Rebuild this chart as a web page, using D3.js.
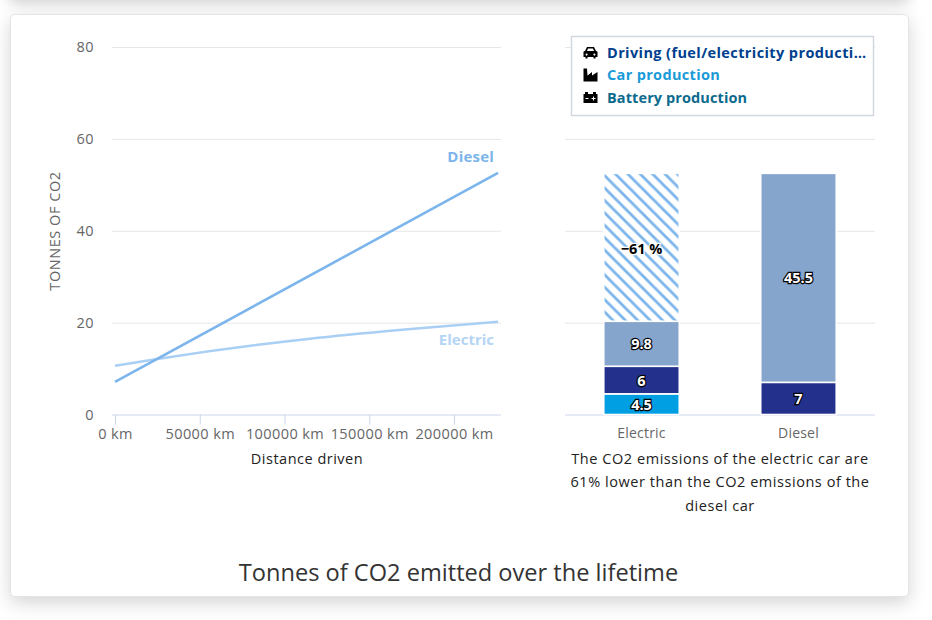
<!DOCTYPE html>
<html>
<head>
<meta charset="utf-8">
<script src="https://cdn.jsdelivr.net/npm/d3@7"></script>
<style>
  html, body { margin: 0; padding: 0; width: 932px; height: 620px; overflow: hidden; background: #fff; }
  .prev { position: absolute; left: 10px; top: -60px; width: 898px; height: 60px; box-shadow: 0 2px 14px rgba(0,0,0,.22); background: #fff; }
  .card { position: absolute; left: 10px; top: 14px; width: 897px; height: 581px; background: #fff; border: 1px solid #e4e4e4;
          border-radius: 5px; box-shadow: 0 6px 18px rgba(0,0,0,.17); }
  svg { position: absolute; left: 0; top: 0; }
  text { font-family: "Open Sans", sans-serif; }
</style>
</head>
<body>
<div class="prev"></div>
<div class="card"></div>
<svg id="chart" width="932" height="620"></svg>
<script>
// values
var yTicks = [0, 20, 40, 60, 80];
var distanceTicks = [0, 50000, 100000, 150000, 200000];
var dieselDistances = [0, 226000];
var dieselLine = [7.1, 52.6];
var electricDistances = [0, 25000, 115000, 171000, 226000];
var electricLine = [10.6, 12.1, 16.5, 18.5, 20.2];

var categories = ["Electric", "Diesel"];
var batteryProduction = [4.5, 0];
var carProduction = [6, 7];
var driving = [9.8, 45.5];
var savedShare = [32.2, 0];

var legendItems = ["Driving (fuel/electricity producti\u2026", "Car production", "Battery production"];
var legendColors = ["#003f8f", "#1a9bd7", "#0b6a8d"];
var legendSpacing = [0.4, 0.33, 0.1];
var captionLines = ["The CO2 emissions of the electric car are", "61% lower than the CO2 emissions of the", "diesel car"];

var svg = d3.select("#chart");

// hatch for the saved part of the electric bar
var pattern = svg.append("defs").append("pattern")
  .attr("id", "hatch")
  .attr("patternUnits", "userSpaceOnUse")
  .attr("width", 12.4).attr("height", 12.4)
  .attr("x", 604).attr("y", 175);
pattern.append("rect").attr("width", 12.4).attr("height", 12.4).attr("fill", "#fff");
pattern.append("path")
  .attr("d", "M-3 -3L15.4 15.4M9.4 -3L15.4 3M-3 9.4L3 15.4")
  .attr("stroke", "#7cb5ec").attr("stroke-width", 2.8);

var y = d3.scaleLinear().domain([0, 80]).range([414.5, 47]);
var x = d3.scaleLinear().domain([0, 200000]).range([115, 454]);
var band = d3.scaleBand().domain(categories).range([565, 875]).paddingInner(0.519).paddingOuter(0.247);

function tickStyle(sel) {
  sel.attr("fill", "#666")
    .style("font-size", "14.5px")
    .style("letter-spacing", "0.4px")
    .style("font-family", '"Open Sans", sans-serif');
}

// ---- left panel

var leftGrid = d3.axisLeft(y).tickValues(yTicks).tickSize(-389).tickPadding(18).tickFormat(d3.format("d"));
var gLeft = svg.append("g").attr("transform", "translate(112,0)").call(leftGrid);
gLeft.select(".domain").remove();
gLeft.selectAll("line").attr("stroke", function(d) { return d === 0 ? "#ccd6eb" : "#e6e6e6"; });
gLeft.selectAll("text").call(tickStyle).attr("dy", "0.34em");

var xAxis = d3.axisBottom(x).tickValues(distanceTicks).tickSize(10).tickPadding(4)
  .tickFormat(function(d) { return d + " km"; });
var gX = svg.append("g").attr("transform", "translate(0,414.5)").call(xAxis);
gX.select(".domain").remove();
gX.selectAll("line").attr("stroke", "#ccd6eb");
gX.selectAll("text").call(tickStyle);

var line = d3.line()
  .x(function(d) { return x(d[0]); })
  .y(function(d) { return y(d[1]); });

svg.append("path").datum(d3.zip(electricDistances, electricLine))
  .attr("d", line.curve(d3.curveMonotoneX))
  .attr("fill", "none").attr("stroke", "#a9cff4").attr("stroke-width", 2.6);
svg.append("path").datum(d3.zip(dieselDistances, dieselLine))
  .attr("d", line.curve(d3.curveLinear))
  .attr("fill", "none").attr("stroke", "#7cb5ec").attr("stroke-width", 2.6);

svg.append("text").attr("x", 494).attr("y", 162).attr("text-anchor", "end")
  .attr("fill", "#7cb5ec").style("font-size", "15px").style("letter-spacing", "0.2px").style("font-weight", 700).text("Diesel");
svg.append("text").attr("x", 494).attr("y", 345).attr("text-anchor", "end")
  .attr("fill", "#b5d5f5").style("font-size", "15px").style("font-weight", 700).text("Electric");

svg.append("text").attr("transform", "translate(60,231) rotate(-90)").attr("text-anchor", "middle")
  .attr("fill", "#666").style("font-size", "14.5px").style("letter-spacing", "0.55px").text("TONNES OF CO2");
svg.append("text").attr("x", 307).attr("y", 464).attr("text-anchor", "middle")
  .attr("fill", "#222").style("font-size", "14.5px").style("letter-spacing", "0.5px").text("Distance driven");

// ---- right panel

var rightGrid = d3.axisLeft(y).tickValues(yTicks).tickSize(-310).tickFormat("");
var gRight = svg.append("g").attr("transform", "translate(565,0)").call(rightGrid);
gRight.select(".domain").remove();
gRight.selectAll("line").attr("stroke", function(d) { return d === 0 ? "#ccd6eb" : "#e6e6e6"; });

var stackRows = categories.map(function(c, i) {
  return { category: c, battery: batteryProduction[i], car: carProduction[i], driving: driving[i], saved: savedShare[i] };
});
var stack = d3.stack().keys(["battery", "car", "driving", "saved"]);
var barFills = { battery: "#009fe3", car: "#23318c", driving: "#86a5cc", saved: "url(#hatch)" };

function segments(s) {
  return s.map(function(p) { return { key: s.key, y0: p[0], y1: p[1], row: p.data }; })
    .filter(function(p) { return p.y1 > p.y0; });
}

var layers = svg.selectAll("g.layer").data(stack(stackRows)).enter().append("g").attr("class", "layer");

layers.selectAll("rect").data(segments)
  .enter().append("rect")
  .attr("x", function(d) { return band(d.row.category); })
  .attr("width", band.bandwidth())
  .attr("y", function(d) { return y(d.y1); })
  .attr("height", function(d) { return y(d.y0) - y(d.y1); })
  .attr("fill", function(d) { return barFills[d.key]; })
  .attr("stroke", "#fff").attr("stroke-width", 1.6);

layers.selectAll("text").data(segments)
  .enter().append("text")
  .attr("x", function(d) { return band(d.row.category) + band.bandwidth() / 2; })
  .attr("y", function(d) { return y((d.y0 + d.y1) / 2) + (d.key === "saved" ? 6.5 : 5.5); })
  .attr("text-anchor", "middle")
  .attr("fill", function(d) { return d.key === "saved" ? "#000" : "#fff"; })
  .attr("stroke", function(d) { return d.key === "saved" ? "#fff" : "#000"; })
  .attr("stroke-width", 2.4)
  .attr("paint-order", "stroke")
  .style("font-size", "14.5px").style("font-weight", 700)
  .text(function(d) { return d.key === "saved" ? "\u221261 %" : d.y1 - d.y0; });

var bandAxis = d3.axisBottom(band).tickSize(0).tickPadding(14);
var gBand = svg.append("g").attr("transform", "translate(0,414.5)").call(bandAxis);
gBand.select(".domain").remove();
gBand.selectAll("text").call(tickStyle).style("font-size", "14px").style("letter-spacing", "0.2px");

svg.selectAll("text.caption").data(captionLines).enter().append("text").attr("class", "caption")
  .attr("x", 720).attr("y", function(d, i) { return 463.5 + i * 23.5; })
  .attr("text-anchor", "middle").attr("fill", "#222")
  .style("font-size", "14.5px").style("letter-spacing", "0.55px")
  .text(function(d) { return d; });

// ---- legend

svg.append("rect").attr("x", 571.5).attr("y", 36.5).attr("width", 302).attr("height", 79)
  .attr("fill", "#fff").attr("stroke", "#d3d8e0").attr("stroke-width", 1.5);

var icons = [
  // car
  "M2 5L4 1H11L13 5A1.5 1.5 0 0 1 14.5 7V11H12.5V12.5H10.5V11H4.5V12.5H2.5V11H.5V7A1.5 1.5 0 0 1 2 5ZM4 5H11L10 2.6H5ZM3.6 7.4a1 1 0 1 0 .01 0ZM11.4 7.4a1 1 0 1 0 .01 0Z",
  // factory
  "M.5 0H4L4.5 7L9 3.5V7L14.5 3.5V13H.5Z",
  // battery
  "M.5 3H2V1H5V3H10V1H13V3H14.5V12H.5ZM2.5 7V8H5.5V7ZM10 5.5V7H8.5V8H10V9.5H11V8H12.5V7H11V5.5Z"
];

var legendRows = svg.selectAll("g.legend-item").data(legendItems).enter().append("g")
  .attr("class", "legend-item")
  .attr("transform", function(d, i) { return "translate(583," + (52.5 + i * 22.5) + ")"; });

legendRows.append("path")
  .attr("d", function(d, i) { return icons[i]; })
  .attr("transform", "translate(0,-6.5)")
  .attr("fill", "#000").attr("fill-rule", "evenodd");

legendRows.append("text")
  .attr("x", 24).attr("y", 5)
  .attr("fill", function(d, i) { return legendColors[i]; })
  .style("font-size", "14.5px").style("letter-spacing", function(d, i) { return legendSpacing[i] + "px"; }).style("font-weight", 700)
  .text(function(d) { return d; });

svg.append("text").attr("x", 458.5).attr("y", 581).attr("text-anchor", "middle")
  .attr("fill", "#333").style("font-size", "23.6px").text("Tonnes of CO2 emitted over the lifetime");
</script>
</body>
</html>
